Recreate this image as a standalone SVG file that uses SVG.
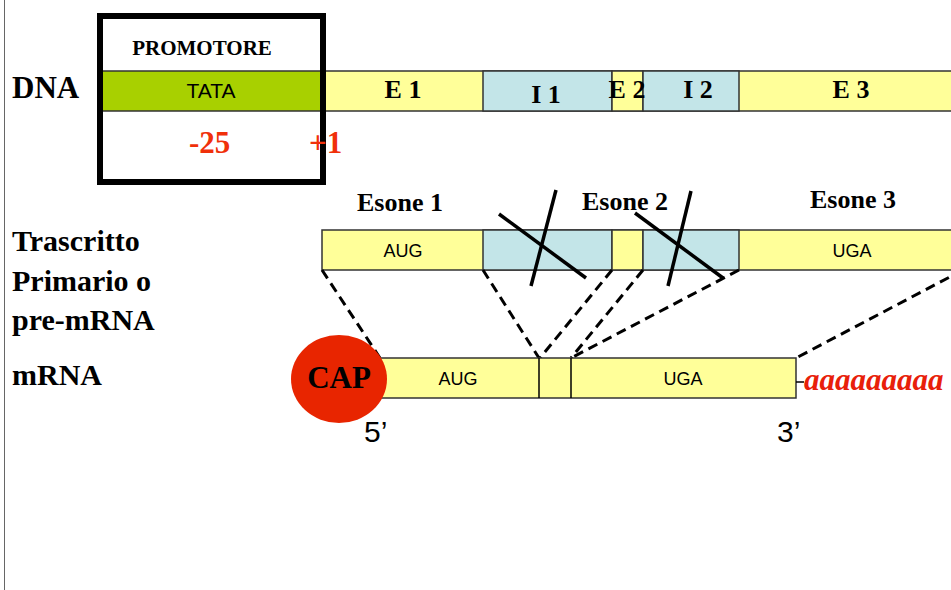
<svg xmlns="http://www.w3.org/2000/svg" width="951" height="590" viewBox="0 0 951 590">
<style>
.lbl{font-family:"Liberation Serif","Times New Roman",serif;font-weight:bold;fill:#000}
.sans{font-family:"Liberation Sans",Arial,sans-serif;fill:#000}
.red{font-family:"Liberation Serif","Times New Roman",serif;font-weight:bold;fill:#F0300A}
.ex{fill:#FFFF99;stroke:#333;stroke-width:1.5}
.in{fill:#C3E5E8;stroke:#333;stroke-width:1.5}
.dash{stroke:#000;stroke-width:3;stroke-dasharray:10 6;fill:none}
.cut{stroke:#000;stroke-width:3.5;fill:none}
</style>
<rect x="0" y="0" width="951" height="590" fill="#fff"/>
<line x1="4.5" y1="0" x2="4.5" y2="590" stroke="#666" stroke-width="1"/>

<g id="labels">
<text class="lbl" x="12" y="98" font-size="31">DNA</text>
<text class="lbl" x="12" y="251" font-size="30">Trascritto</text>
<text class="lbl" x="12" y="291" font-size="30">Primario o</text>
<text class="lbl" x="12" y="330" font-size="30">pre-mRNA</text>
<text class="lbl" x="12" y="385" font-size="30">mRNA</text>
</g>

<g id="dna">
<rect class="ex" x="321" y="71" width="640" height="40"/>
<rect x="101" y="71" width="220" height="40" fill="#A8D000" stroke="#333" stroke-width="1.5"/>
<rect class="in" x="483" y="71" width="129" height="40"/>
<rect class="ex" x="612" y="71" width="31" height="40"/>
<rect class="in" x="643" y="71" width="96" height="40"/>
<text class="sans" x="211" y="98" font-size="21" text-anchor="middle">TATA</text>
<text class="lbl" x="403" y="98" font-size="26" text-anchor="middle">E 1</text>
<text class="lbl" x="546" y="103" font-size="26" text-anchor="middle">I 1</text>
<text class="lbl" x="627" y="98" font-size="26" text-anchor="middle">E 2</text>
<text class="lbl" x="698" y="98" font-size="26" text-anchor="middle">I 2</text>
<text class="lbl" x="851" y="98" font-size="26" text-anchor="middle">E 3</text>
</g>

<g id="promotore">
<rect x="100" y="16" width="223" height="166" fill="none" stroke="#000" stroke-width="6"/>
<text class="lbl" x="202" y="55" font-size="21" text-anchor="middle">PROMOTORE</text>
<text class="red" x="189" y="153" font-size="31">-25</text>
<text class="red" x="309" y="153" font-size="31">+1</text>
</g>

<g id="premrna">
<rect class="ex" x="322" y="230" width="640" height="40"/>
<rect class="in" x="483" y="230" width="129" height="40"/>
<rect class="ex" x="612" y="230" width="31" height="40"/>
<rect class="in" x="643" y="230" width="96" height="40"/>
<text class="sans" x="403" y="257" font-size="18" text-anchor="middle">AUG</text>
<text class="sans" x="852" y="257" font-size="18" text-anchor="middle">UGA</text>
<text class="lbl" x="400" y="211" font-size="26" text-anchor="middle">Esone 1</text>
<text class="lbl" x="625" y="210" font-size="26" text-anchor="middle">Esone 2</text>
<text class="lbl" x="853" y="208" font-size="26" text-anchor="middle">Esone 3</text>
</g>

<g id="connectors">
<line class="dash" x1="322" y1="270" x2="380" y2="358"/>
<line class="dash" x1="483" y1="270" x2="539" y2="358"/>
<line class="dash" x1="612" y1="270" x2="540" y2="358"/>
<line class="dash" x1="643" y1="270" x2="571" y2="358"/>
<line class="dash" x1="739" y1="270" x2="571" y2="358"/>
<line class="dash" x1="963" y1="270" x2="796" y2="358"/>
<line class="cut" x1="499" y1="214" x2="586" y2="278"/>
<line class="cut" x1="556" y1="190" x2="531" y2="286"/>
<line class="cut" x1="635" y1="213" x2="723" y2="278"/>
<line class="cut" x1="691" y1="191" x2="668" y2="286"/>
</g>

<g id="mrna">
<rect class="ex" x="380" y="358" width="416" height="40"/>
<line x1="539" y1="358" x2="539" y2="398" stroke="#000" stroke-width="1.5"/>
<line x1="571" y1="358" x2="571" y2="398" stroke="#000" stroke-width="1.5"/>
<text class="sans" x="458" y="385" font-size="18" text-anchor="middle">AUG</text>
<text class="sans" x="683" y="385" font-size="18" text-anchor="middle">UGA</text>
<line x1="796" y1="382" x2="804" y2="382" stroke="#000" stroke-width="1.5"/>
<text x="804" y="390" font-size="31" font-family="'Liberation Serif','Times New Roman',serif" font-style="italic" font-weight="bold" fill="#E8200A">aaaaaaaaa</text>
<text class="sans" x="364" y="442" font-size="30">5’</text>
<text class="sans" x="777" y="442" font-size="30">3’</text>
</g>

<g id="cap">
<ellipse cx="339" cy="379" rx="48" ry="44" fill="#E82500"/>
<text class="lbl" x="339" y="388" font-size="31" text-anchor="middle">CAP</text>
</g>
</svg>
